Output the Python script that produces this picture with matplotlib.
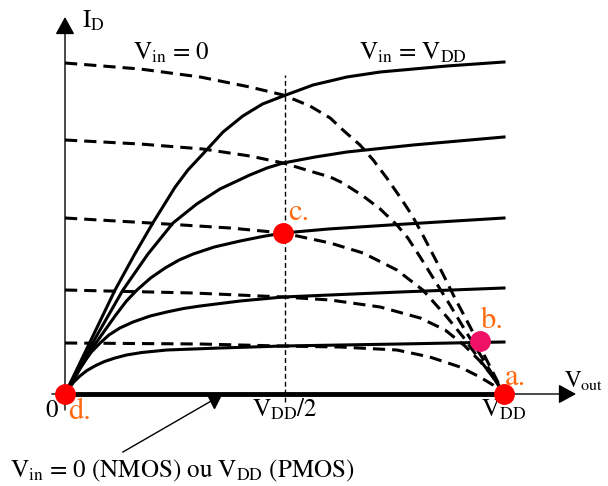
import matplotlib
matplotlib.use("Agg")
import matplotlib.pyplot as plt

plt.rcParams['font.family'] = 'STIXGeneral'
plt.rcParams['mathtext.fontset'] = 'stix'

# V_out as a fraction of VDD, I_D in arbitrary units
# NMOS curves (solid), from Vin = 0 up to Vin = VDD
n_x = [
    [0, 1.0],
    [0, 0.020, 0.034, 0.050, 0.070, 0.090, 0.114, 0.140, 0.175, 0.232, 0.353, 0.497, 0.763, 1.0],
    [0, 0.034, 0.060, 0.080, 0.100, 0.125, 0.155, 0.194, 0.232, 0.270, 0.308, 0.399, 0.497,
     0.763, 1.0],
    [0, 0.064, 0.114, 0.140, 0.164, 0.195, 0.228, 0.260, 0.292, 0.340, 0.399, 0.450, 0.497,
     0.600, 0.740, 1.0],
    [0, 0.068, 0.132, 0.189, 0.246, 0.300, 0.353, 0.421, 0.460, 0.497, 0.570, 0.642, 0.793, 1.0],
    [0, 0.057, 0.114, 0.159, 0.200, 0.251, 0.280, 0.314, 0.360, 0.405, 0.450, 0.497, 0.565,
     0.642, 0.718, 0.870, 1.0],
]
n_id = [
    [0, 0],
    [0, 0.12, 0.18, 0.235, 0.285, 0.325, 0.36, 0.39, 0.415, 0.44, 0.46, 0.48, 0.50, 0.52],
    [0, 0.26, 0.42, 0.51, 0.59, 0.66, 0.72, 0.78, 0.82, 0.855, 0.88, 0.93, 0.97, 1.02, 1.06],
    [0, 0.47, 0.78, 0.93, 1.04, 1.16, 1.26, 1.34, 1.40, 1.47, 1.53, 1.575, 1.61, 1.65, 1.69, 1.76],
    [0, 0.55, 1.04, 1.40, 1.71, 1.90, 2.05, 2.19, 2.26, 2.31, 2.37, 2.42, 2.49, 2.57],
    [0, 0.52, 1.04, 1.40, 1.71, 2.07, 2.24, 2.40, 2.62, 2.78, 2.90, 2.98, 3.09, 3.17, 3.22,
     3.28, 3.32],
]

# PMOS curves (dashed), from Vin = VDD up to Vin = 0
p_x = [
    [0, 1.0],
    [0, 0.308, 0.490, 0.626, 0.756, 0.831, 0.900, 0.945, 0.975, 1.0],
    [0, 0.292, 0.497, 0.604, 0.718, 0.809, 0.866, 0.911, 0.945, 0.973, 1.0],
    [0, 0.194, 0.376, 0.497, 0.604, 0.679, 0.756, 0.815, 0.870, 0.907, 0.945, 0.975, 1.0],
    [0, 0.171, 0.314, 0.421, 0.497, 0.565, 0.604, 0.633, 0.679, 0.718, 0.756, 0.781,
     0.809, 0.843, 0.877, 0.911, 0.945, 0.973, 1.0],
    [0, 0.171, 0.308, 0.421, 0.497, 0.558, 0.604, 0.633, 0.672, 0.702, 0.733, 0.763,
     0.790, 0.815, 0.854, 0.888, 0.923, 0.957, 0.979, 1.0],
]
p_id = [
    [0, 0],
    [0.51, 0.50, 0.48, 0.47, 0.44, 0.37, 0.27, 0.17, 0.09, 0.0],
    [1.04, 1.01, 0.97, 0.94, 0.87, 0.76, 0.64, 0.48, 0.33, 0.18, 0.0],
    [1.76, 1.71, 1.66, 1.61, 1.51, 1.41, 1.24, 1.04, 0.77, 0.57, 0.34, 0.17, 0.0],
    [2.54, 2.50, 2.45, 2.38, 2.31, 2.22, 2.17, 2.11, 1.98, 1.85, 1.69, 1.56,
     1.37, 1.13, 0.89, 0.64, 0.40, 0.20, 0.0],
    [3.31, 3.25, 3.17, 3.07, 2.99, 2.88, 2.76, 2.64, 2.49, 2.34, 2.16, 1.97,
     1.79, 1.59, 1.26, 0.96, 0.67, 0.37, 0.18, 0.0],
]

# operating points a, b, c, d
pt_names = ['a.', 'b.', 'c.', 'd.']
pt_x = [1.0, 0.945, 0.497, 0.0]
pt_id = [0.0, 0.53, 1.61, 0.0]
pt_colors = ['#ff0000', '#ee1166', '#ff0000', '#ff0000']

orange = '#ff6a10'

fig = plt.figure(figsize=(6.08, 4.86), dpi=100)
ax = fig.add_axes([0, 0, 1, 1])
ax.set_xlim(-65 / 439, 543 / 439)
ax.set_ylim(-0.92, 3.94)
ax.axis('off')

# axes with arrows
arrow = dict(arrowstyle='-|>,head_length=0.4,head_width=0.22', mutation_scale=27,
             lw=1.0, color='black', shrinkA=0, shrinkB=0)
ax.annotate('', xy=(0, 3.77), xytext=(0, -0.16), arrowprops=arrow)
ax.annotate('', xy=(1.164, 0), xytext=(-0.03, 0), arrowprops=arrow)

# VDD/2 guide
ax.plot([0.5, 0.5], [-0.08, 3.19], color='black', lw=1.0, linestyle=(0, (3.5, 2.2)))

for xs, ys in zip(p_x, p_id):
    ax.plot(xs, ys, color='black', lw=2.2, linestyle=(0, (4, 2.3)))
for i, (xs, ys) in enumerate(zip(n_x, n_id)):
    ax.plot(xs, ys, color='black', lw=3.5 if i == 0 else 2.2, solid_joinstyle='round')

for x, y, c in zip(pt_x, pt_id, pt_colors):
    ax.plot(x, y, 'o', color=c, markersize=14, zorder=5)

fs = 18
ax.text(0.039, 3.66, r'I$_{\mathrm{D}}$', fontsize=fs, va='baseline')
ax.text(0.155, 3.34, r'V$_{\mathrm{in}}$ = 0', fontsize=fs, va='baseline')
ax.text(0.670, 3.34, r'V$_{\mathrm{in}}$ = V$_{\mathrm{DD}}$', fontsize=fs, va='baseline')
ax.text(1.137, 0.07, r'V$_{\mathrm{out}}$', fontsize=16.5, va='baseline')
ax.text(-0.016, -0.23, '0', fontsize=fs, va='baseline', ha='right')
ax.text(0.5, -0.23, r'V$_{\mathrm{DD}}$/2', fontsize=fs, va='baseline', ha='center')
ax.text(1.0, -0.23, r'V$_{\mathrm{DD}}$', fontsize=fs, va='baseline', ha='center')
ax.text(-0.126, -0.83, r'V$_{\mathrm{in}}$ = 0 (NMOS) ou V$_{\mathrm{DD}}$ (PMOS)',
        fontsize=fs, va='baseline')

lab_x = [1.002, 0.948, 0.508, 0.007]
lab_y = [0.09, 0.66, 1.74, -0.25]
for name, x, y in zip(pt_names, lab_x, lab_y):
    ax.text(x, y, name, fontsize=22, color=orange, va='baseline')

# pointer to the zero-current line
ax.plot([0.132, 0.337], [-0.58, -0.06], color='black', lw=1.0)
ax.plot(0.339, -0.07, 'v', color='black', markersize=10)

fig.savefig('out.png', dpi=100)
